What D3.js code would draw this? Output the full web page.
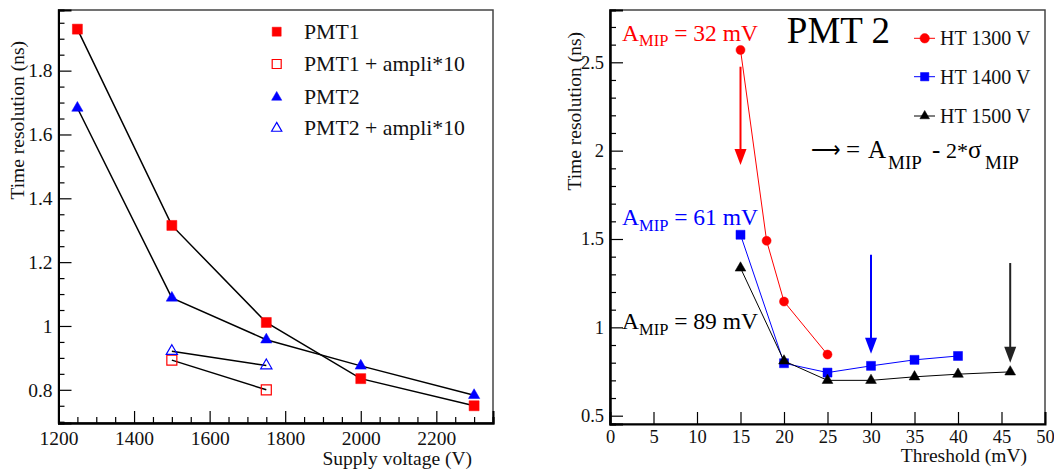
<!DOCTYPE html>
<html><head><meta charset="utf-8">
<script src="https://cdn.jsdelivr.net/npm/d3@7"></script>
<style>
body{margin:0;background:#fff;}
text{font-family:"Liberation Serif","Times New Roman",serif;}
</style></head>
<body><svg id="c" width="1054" height="470"></svg>
<script>
// ---------- Left panel data ----------
const supplyVoltages = [1250, 1500, 1750, 2000, 2300];
const pmt1Res = [1.93, 1.315, 1.011, 0.835, 0.750];
const pmt2Res = [1.683, 1.088, 0.957, 0.875, 0.783];
const amplVoltages = [1500, 1750];
const pmt1AmpRes = [0.893, 0.800];
const pmt2AmpRes = [0.921, 0.876];
const leftLegend = ["PMT1", "PMT1 + ampli*10", "PMT2", "PMT2 + ampli*10"];
const leftXTicks = [1200, 1400, 1600, 1800, 2000, 2200];
const leftYTicks = [0.8, 1, 1.2, 1.4, 1.6, 1.8];

// ---------- Right panel data ----------
const ht1300X = [15, 18, 20, 25];
const ht1300Y = [2.57, 1.49, 1.146, 0.846];
const ht1400X = [15, 20, 25, 30, 35, 40];
const ht1400Y = [1.524, 0.797, 0.744, 0.782, 0.816, 0.838];
const ht1500X = [15, 20, 25, 30, 35, 40, 46];
const ht1500Y = [1.336, 0.81, 0.70, 0.70, 0.72, 0.735, 0.748];
const rightLegend = ["HT 1300 V", "HT 1400 V", "HT 1500 V"];
const arrowX = [15, 30, 46];
const arrowFrom = [2.475, 1.411, 1.364];
const arrowTo = [1.919, 0.851, 0.80];
const ampMip = ["32", "61", "89"];
const rightXTicks = [0, 5, 10, 15, 20, 25, 30, 35, 40, 45, 50];
const rightYTicks = [0.5, 1, 1.5, 2, 2.5];

const svg = d3.select("#c");
const fmt = d => String(+d.toFixed(2));
const SERIF = "Liberation Serif";

function fitWidth(sel, target) {
  const node = sel.node();
  const fs = parseFloat(sel.attr("font-size"));
  const w = node.getComputedTextLength();
  if (w > 0) sel.attr("font-size", fs * target / w);
}

function drawFrame(g, x, y, xMajor, xMinor, yMajor, yMinor, fsz, xpad) {
  const [x0, x1] = x.range(), [y0, y1] = y.range();
  g.append("rect").attr("x", x0).attr("y", y1).attr("width", x1 - x0).attr("height", y0 - y1)
    .attr("fill", "none").attr("stroke", "#444").attr("stroke-width", 1.5);
  const bx = g.append("g").attr("transform", `translate(0,${y0})`)
    .call(d3.axisBottom(x).tickValues(xMajor).tickSize(-12).tickPadding(xpad).tickFormat(fmt));
  if (xMinor.length) g.append("g").attr("transform", `translate(0,${y0})`)
    .call(d3.axisBottom(x).tickValues(xMinor).tickSize(-6).tickFormat(""));
  g.append("g").attr("transform", `translate(${x0},0)`)
    .call(d3.axisLeft(y).tickValues(yMajor).tickSize(-13).tickPadding(6).tickFormat(fmt));
  g.append("g").attr("transform", `translate(${x0},0)`)
    .call(d3.axisLeft(y).tickValues(yMinor).tickSize(-6).tickFormat(""));
  g.selectAll("g").attr("font-family", SERIF);
  g.selectAll(".domain").attr("stroke", "#000").attr("stroke-width", 2);
  g.selectAll(".tick line").attr("stroke", "#000").attr("stroke-width", 1.2);
  g.selectAll(".tick text").attr("font-family", SERIF).attr("font-size", fsz).attr("fill", "#111");
  bx.selectAll(".tick text").attr("dy", "0.75em");
}

function marker(g, type, cx, cy, color, open, size) {
  const sym = {square: d3.symbolSquare, triangle: d3.symbolTriangle, circle: d3.symbolCircle}[type];
  g.append("path").attr("d", d3.symbol(sym, size)())
    .attr("transform", `translate(${cx},${cy})`)
    .attr("fill", open ? "none" : color).attr("stroke", color).attr("stroke-width", open ? 1.2 : 0.5);
}

// ================= LEFT PANEL =================
{
  const g = svg.append("g");
  const x = d3.scaleLinear().domain([1200, 2350]).range([58.5, 493]);
  const y = d3.scaleLinear().domain([0.696, 1.99]).range([423, 10]);
  const xMinor = d3.range(1250, 2351, 50).filter(v => v % 200 !== 0);
  const yMinor = d3.range(0.70, 1.99, 0.05).filter(v => Math.abs(v * 5 - Math.round(v * 5)) > 1e-6);
  drawFrame(g, x, y, leftXTicks, xMinor, leftYTicks, yMinor, 19.5, 7);

  const series = [
    {xs: supplyVoltages, ys: pmt1Res, type: "square", color: "#ff0000", open: false},
    {xs: amplVoltages, ys: pmt1AmpRes, type: "square", color: "#ff0000", open: true},
    {xs: supplyVoltages, ys: pmt2Res, type: "triangle", color: "#0000ff", open: false},
    {xs: amplVoltages, ys: pmt2AmpRes, type: "triangle", color: "#0000ff", open: true},
  ];
  const line = d3.line().x(d => x(d[0])).y(d => y(d[1]));
  series.forEach(s => {
    g.append("path").attr("d", line(d3.zip(s.xs, s.ys))).attr("fill", "none")
      .attr("stroke", "#000").attr("stroke-width", 1.5);
  });
  series.forEach(s => {
    d3.zip(s.xs, s.ys).forEach(p => marker(g, s.type, x(p[0]), y(p[1]), s.color, s.open,
      s.type === "square" ? 100 : 55));
  });
  // legend
  const rows = [31.7, 64, 97.3, 128.3];
  const probe = g.append("text").attr("font-family", SERIF).attr("font-size", 21).text(leftLegend[1]);
  fitWidth(probe, 161);
  const lfs = probe.attr("font-size");
  probe.remove();
  series.forEach((s, i) => {
    marker(g, s.type, 276.7, rows[i], s.color, s.open, s.type === "square" ? 81 : 45);
    g.append("text").attr("x", 304).attr("y", rows[i] + 7).attr("font-family", SERIF)
      .attr("font-size", lfs).attr("fill", "#111").text(leftLegend[i]);
  });
  g.append("text").attr("x", 472).attr("y", 465).attr("text-anchor", "end").attr("font-size", 19.5)
    .attr("font-family", SERIF).attr("fill", "#111").text("Supply voltage (V)");
  g.append("text").attr("transform", "translate(24,41) rotate(-90)").attr("text-anchor", "end")
    .attr("font-family", SERIF).attr("font-size", 19.5).attr("fill", "#111").text("Time resolution (ns)");
}

// ================= RIGHT PANEL =================
{
  const g = svg.append("g");
  const x = d3.scaleLinear().domain([0, 50]).range([610, 1045]);
  const y = d3.scaleLinear().domain([0.453, 2.796]).range([424, 10]);
  const yMinor = d3.range(0.5, 2.75, 0.1).filter(v => Math.abs(v * 2 - Math.round(v * 2)) > 1e-6);
  drawFrame(g, x, y, rightXTicks, [], rightYTicks, yMinor, 18.5, 5);

  const series = [
    {xs: ht1300X, ys: ht1300Y, type: "circle", color: "#ff0000", size: 64},
    {xs: ht1400X, ys: ht1400Y, type: "square", color: "#0000ff", size: 81},
    {xs: ht1500X, ys: ht1500Y, type: "triangle", color: "#000000", size: 50},
  ];
  const line = d3.line().x(d => x(d[0])).y(d => y(d[1]));
  series.forEach(s => {
    g.append("path").attr("d", line(d3.zip(s.xs, s.ys))).attr("fill", "none")
      .attr("stroke", s.color).attr("stroke-width", 1);
  });
  series.forEach(s => {
    d3.zip(s.xs, s.ys).forEach(p => marker(g, s.type, x(p[0]), y(p[1]), s.color, false, s.size));
  });
  // arrows
  const arrowColors = ["#ff0000", "#0000ff", "#222"];
  arrowX.forEach((ax, i) => {
    const cx = x(ax), yt = y(arrowFrom[i]), yb = y(arrowTo[i]);
    g.append("line").attr("x1", cx).attr("x2", cx).attr("y1", yt).attr("y2", yb - 10)
      .attr("stroke", arrowColors[i]).attr("stroke-width", 2);
    g.append("path").attr("d", `M${cx - 6},${yb - 16}L${cx + 6},${yb - 16}L${cx},${yb}Z`)
      .attr("fill", arrowColors[i]);
  });
  // A_MIP labels
  const ampColors = ["#ff0000", "#0000ff", "#000"];
  const ampBase = [40.5, 225, 329];
  ampMip.forEach((v, i) => {
    const t = g.append("text").attr("x", 622).attr("y", ampBase[i]).attr("font-family", SERIF)
      .attr("font-size", 23.5).attr("fill", ampColors[i]);
    t.append("tspan").text("A");
    t.append("tspan").attr("font-size", 16.5).attr("dy", 5.5).text("MIP");
    t.append("tspan").attr("dy", -5.5).text(` = ${v} mV`);
  });
  g.append("text").attr("x", 890).attr("y", 43).attr("text-anchor", "end").attr("font-size", 37)
    .attr("font-family", SERIF).attr("fill", "#000").text("PMT 2");
  // legend
  const rows = [38.3, 76.7, 116];
  series.forEach((s, i) => {
    g.append("line").attr("x1", 914).attr("x2", 935).attr("y1", rows[i]).attr("y2", rows[i])
      .attr("stroke", s.color).attr("stroke-width", 1);
    marker(g, s.type, 924.7, rows[i], s.color, false, s.type === "triangle" ? 40 : 70);
    g.append("text").attr("x", 940).attr("y", rows[i] + 7).attr("font-family", SERIF)
      .attr("font-size", 20).attr("fill", "#111").text(rightLegend[i]);
  });
  // formula: arrow = A_MIP - 2*sigma_MIP
  const fy = 158.3;
  g.append("text").attr("x", 811).attr("y", fy - 1).attr("font-family", "DejaVu Sans").attr("font-size", 22)
    .attr("textLength", 30).attr("lengthAdjust", "spacingAndGlyphs").text("\u27F6");
  const f = g.append("text").attr("y", fy).attr("font-family", SERIF).attr("font-size", 25).attr("fill", "#000");
  f.append("tspan").attr("x", 846).text("=");
  f.append("tspan").attr("x", 868).text("A");
  f.append("tspan").attr("x", 888).attr("font-size", 19).attr("dy", 10.5).text("MIP");
  f.append("tspan").attr("x", 932).attr("dy", -10.5).text("-");
  f.append("tspan").attr("x", 946).attr("font-size", 22).text("2*");
  f.append("tspan").attr("x", 968).text("\u03c3");
  f.append("tspan").attr("x", 985).attr("font-size", 19).attr("dy", 10.5).text("MIP");

  g.append("text").attr("x", 1027).attr("y", 462).attr("text-anchor", "end").attr("font-size", 19.5)
    .attr("font-family", SERIF).attr("fill", "#111").text("Threshold (mV)");
  g.append("text").attr("transform", "translate(581,32) rotate(-90)").attr("text-anchor", "end")
    .attr("font-family", SERIF).attr("font-size", 19.5).attr("fill", "#111").text("Time resolution (ns)");
}
</script></body></html>
